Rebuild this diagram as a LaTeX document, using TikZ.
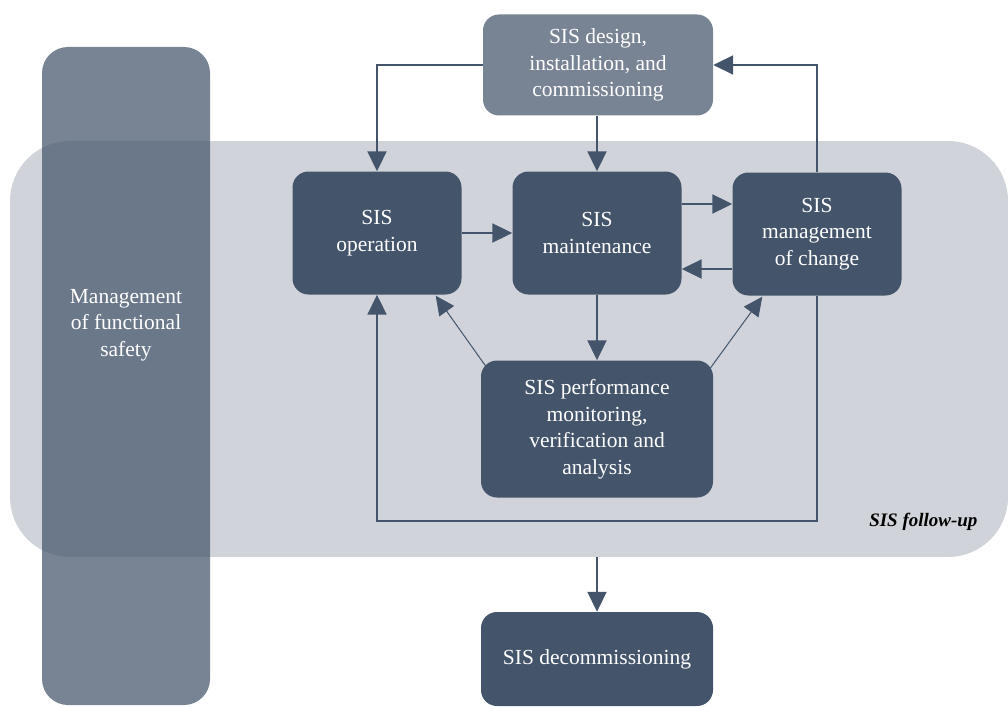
\documentclass[tikz,border=0pt]{standalone}
\usepackage{fontspec}
\setmainfont{Liberation Serif}
\newfontfamily\stagefont{Liberation Serif}
\usetikzlibrary{arrows.meta,calc}
\definecolor{slate}{HTML}{44546A}
\begin{document}
\begin{tikzpicture}[x=1pt,y=-1pt,
  stage/.style={fill=slate, rounded corners=16pt, text=white, align=center,
    inner sep=0pt, font=\stagefont\fontsize{21.5}{26.5}\selectfont},
  soft/.style={stage, fill opacity=0.72, text opacity=1},
  flow/.style={draw=slate, line width=2pt, -{Triangle[length=20pt,width=19pt]}},
  thinflow/.style={draw=slate, line width=1pt, -{Triangle[length=19pt,width=18pt]}}]
\useasboundingbox (0,0) rectangle (1008,706);

% follow-up band and the functional-safety column behind everything
\node[fill=slate, fill opacity=0.25, rounded corners=60pt, inner sep=0pt,
  minimum width=998pt, minimum height=416pt] (band) at (509,349) {};
\node[fill=slate, fill opacity=0.72, rounded corners=26pt, inner sep=0pt,
  minimum width=168pt, minimum height=658pt] (mfs) at (126,376) {};
\node[text=white, align=center, font=\stagefont\fontsize{21.5}{26.5}\selectfont] (mfstext) at (126,325)
  {Management\\of functional\\safety};

% stages
\node[soft, minimum width=230pt, minimum height=101pt] (design) at (598,65)
  {SIS design,\\installation, and\\commissioning};
\node[stage, minimum width=169pt, minimum height=123pt] (op) at (377,233) {SIS\\operation};
\node[stage, minimum width=169pt, minimum height=123pt] (maint) at (597,233) {SIS\\maintenance};
\node[stage, minimum width=169pt, minimum height=123pt] (moc) at (817,234) {SIS\\management\\of change};
\node[stage, minimum width=232pt, minimum height=137pt] (perf) at (597,429)
  {SIS performance\\monitoring,\\verification and\\analysis};
\node[stage, minimum width=232pt, minimum height=94pt] (decom) at (597,659) {SIS decommissioning};

\node[anchor=east, font=\stagefont\bfseries\itshape\fontsize{19}{22}\selectfont] (fu) at (981,522) {SIS follow-up};

% connectors
\draw[flow] (design.west) -| (op.north);
\draw[flow] (maint.north |- design.south) -- (maint.north);
\draw[flow] (moc.north) |- (design.east);
\draw[flow] (op.east) -- (maint.west);
\draw[flow] (maint.east |- 0,204) -- (moc.west |- 0,204);
\draw[flow] (moc.west |- 0,269) -- (maint.east |- 0,269);
\draw[flow] (maint.south) -- (perf.north);
\draw[thinflow] ($(perf.north west)+(5,6)$) -- ($(op.south east)+(-26,1)$);
\draw[thinflow] ($(perf.north east)+(-3,8)$) -- ($(moc.south west)+(30,1)$);
\coordinate (loop) at (597,521);
\draw[flow] (moc.south) |- (loop) -| (op.south);
\draw[flow] (decom.north |- band.south) -- (decom.north);
\end{tikzpicture}
\end{document}
